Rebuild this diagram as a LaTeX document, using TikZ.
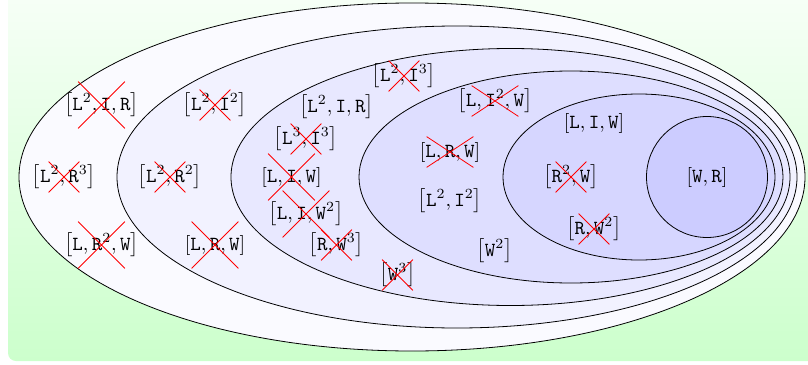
\documentclass[tikz,border=0pt]{standalone}
\usepackage{amsmath,amssymb}
\usepackage{xcolor}
\usepackage{tikz}
\usetikzlibrary{shapes.geometric, shapes.misc}

\newcommand{\mon}[1]{$\left[#1\right]$}
\newcommand{\tL}{\mathtt{L}}
\newcommand{\tI}{\mathtt{I}}
\newcommand{\tR}{\mathtt{R}}
\newcommand{\tW}{\mathtt{W}}

\begin{document}
\begin{tikzpicture}[
  x=0.5pt, y=-0.5pt,
  layer/.style={ellipse, draw=black, inner sep=0pt},
  mono/.style={inner sep=1pt},
  nixbig/.style={cross out, draw=red, inner sep=0pt, minimum size=23pt},
  nix/.style={cross out, draw=red, inner sep=0pt, minimum size=15pt},
  nixwide/.style={cross out, draw=red, inner sep=0pt, minimum width=23pt, minimum height=15pt},
]
  \useasboundingbox (0,0) rectangle (808,364);
  \shade[top color=green!3, bottom color=green!20, rounded corners=4pt]
    (8,-12) rectangle (830,361);

  % nested regions, all ending near the right border
  \node[layer, fill=blue!2, minimum width=393pt, minimum height=174pt] (e1) at (412,177) {};
  \node[layer, fill=blue!5, minimum width=340pt, minimum height=151pt] (e2) at (457,177) {};
  \node[layer, fill=blue!9, minimum width=279.5pt, minimum height=128.5pt] (e3) at (510.5,177) {};
  \node[layer, fill=blue!13, minimum width=212pt, minimum height=106pt] (e4) at (571,177) {};
  \node[layer, fill=blue!16, minimum width=136pt, minimum height=83pt] (e5) at (639,177) {};
  \node[circle, draw=black, fill=blue!20, inner sep=0pt, minimum size=60.5pt] (core) at (707,177) {};

  % outer ring
  \node[mono] (a1) at (101.5,105) {\mon{\tL^2, \tI, \tR}};
  \node[mono] (a2) at (64,177) {\mon{\tL^2, \tR^3}};
  \node[mono] (a3) at (101.5,245) {\mon{\tL, \tR^2, \tW}};
  \node[nixbig] (xa1) at (a1) {};
  \node[nix] (xa2) at (a2) {};
  \node[nixbig] (xa3) at (a3) {};

  % second ring
  \node[mono] (b1) at (215,105) {\mon{\tL^2, \tI^2}};
  \node[mono] (b2) at (170,177) {\mon{\tL^2, \tR^2}};
  \node[mono] (b3) at (215,245) {\mon{\tL, \tR, \tW}};
  \node[nix] (xb1) at (b1) {};
  \node[nix] (xb2) at (b2) {};
  \node[nixbig] (xb3) at (b3) {};

  % third ring
  \node[mono] (c1) at (404,76) {\mon{\tL^2, \tI^3}};
  \node[mono] (c2) at (336.5,107) {\mon{\tL^2, \tI, \tR}};
  \node[mono] (c3) at (306,139) {\mon{\tL^3, \tI^3}};
  \node[mono] (c4) at (291.5,177) {\mon{\tL, \tI, \tW}};
  \node[mono] (c5) at (306,214) {\mon{\tL, \tI, \tW^2}};
  \node[mono] (c6) at (336.5,245) {\mon{\tR, \tW^3}};
  \node[mono] (c7) at (397.5,275) {\mon{\tW^3}};
  \node[nix] (xc1) at (c1) {};
  \node[nix] (xc3) at (c3) {};
  \node[nixbig] (xc4) at (c4) {};
  \node[nixbig] (xc5) at (c5) {};
  \node[nix] (xc6) at (c6) {};
  \node[nix] (xc7) at (c7) {};

  % fourth ring
  \node[mono] (d1) at (495,101) {\mon{\tL, \tI^2, \tW}};
  \node[mono] (d2) at (450,152) {\mon{\tL, \tR, \tW}};
  \node[mono] (d3) at (450,201) {\mon{\tL^2, \tI^2}};
  \node[mono] (d4) at (494.5,251) {\mon{\tW^2}};
  \node[nixwide] (xd1) at (d1) {};
  \node[nixwide] (xd2) at (d2) {};

  % fifth ring
  \node[mono] (f1) at (594,123) {\mon{\tL, \tI, \tW}};
  \node[mono] (f2) at (571,177) {\mon{\tR^2, \tW}};
  \node[mono] (f3) at (594,229) {\mon{\tR, \tW^2}};
  \node[nix] (xf2) at (f2) {};
  \node[nix] (xf3) at (f3) {};

  % core
  \node[mono] (g1) at (core) {\mon{\tW, \tR}};
\end{tikzpicture}
\end{document}
